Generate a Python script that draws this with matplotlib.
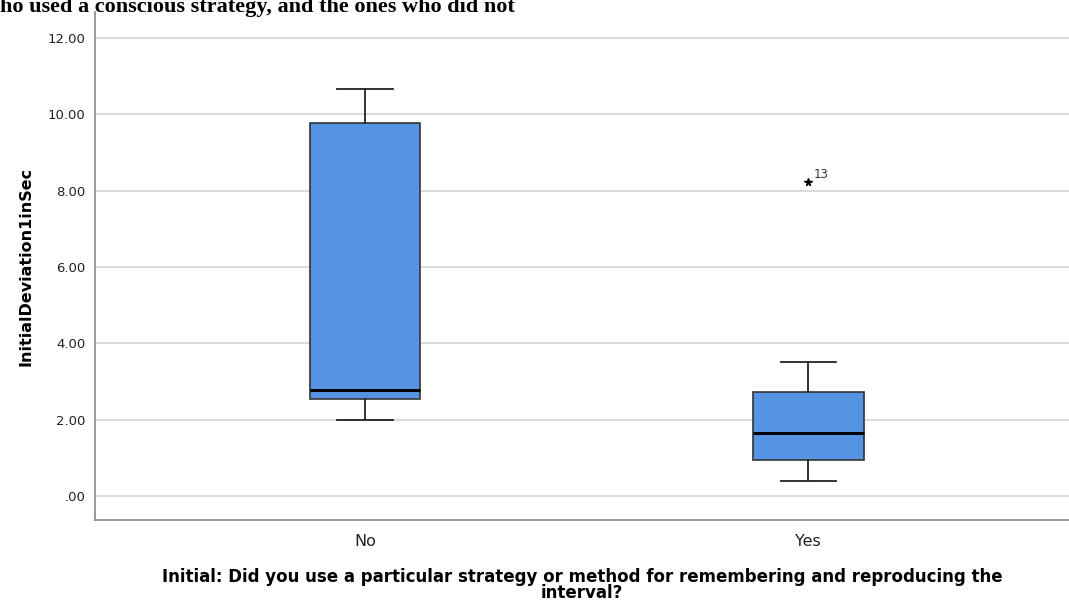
import matplotlib
matplotlib.use("Agg")
import matplotlib.pyplot as plt
from matplotlib.ticker import FixedLocator, FixedFormatter

# Five-number summaries per group
groups = ["No", "Yes"]
whisker_low = [1.98, 0.40]
q1 = [2.54, 0.94]
median = [2.78, 1.65]
q3 = [9.76, 2.72]
whisker_high = [10.67, 3.51]
outliers = [[], [8.22]]
outlier_ids = [[], ["13"]]

yticks = [0, 2, 4, 6, 8, 10, 12]
ytick_labels = [".00", "2.00", "4.00", "6.00", "8.00", "10.00", "12.00"]

fill = "#5594e3"

fig = plt.figure(figsize=(10.69, 6.07), dpi=100)
ax = fig.add_axes([95 / 1069, 87 / 607, 974 / 1069, 508 / 607])

stats = []
for i, g in enumerate(groups):
    stats.append(dict(label=g, whislo=whisker_low[i], q1=q1[i], med=median[i],
                      q3=q3[i], whishi=whisker_high[i], fliers=outliers[i]))

pos = list(range(len(groups)))
ax.bxp(stats, positions=pos, widths=0.25, patch_artist=True,
       boxprops=dict(facecolor=fill, edgecolor="#333333", linewidth=1.2),
       medianprops=dict(color="black", linewidth=2.2),
       whiskerprops=dict(color="#222222", linewidth=1.3),
       capprops=dict(color="#222222", linewidth=1.3),
       capwidths=0.125,
       flierprops=dict(marker="*", markersize=5.5, markerfacecolor="black",
                       markeredgecolor="black", linestyle="none"),
       zorder=3)

for i in pos:
    for v, lab in zip(outliers[i], outlier_ids[i]):
        ax.annotate(lab, (i, v), xytext=(4, 3), textcoords="offset points",
                    fontsize=8.5, color="#333333")

ax.set_xlim(-0.609, 1.588)
ax.set_ylim(-0.63, 12.68)
ax.yaxis.set_major_locator(FixedLocator(yticks))
ax.yaxis.set_major_formatter(FixedFormatter(ytick_labels))
ax.grid(axis="y", color="#d4d4d4", linewidth=1.2, zorder=0)
ax.set_axisbelow(True)

for s in ["top", "right"]:
    ax.spines[s].set_visible(False)
for s in ["left", "bottom"]:
    ax.spines[s].set_color("#888888")
    ax.spines[s].set_linewidth(1.2)

ax.tick_params(axis="y", length=0, labelsize=9.5, labelcolor="#222222", pad=7)
ax.tick_params(axis="x", length=0, labelsize=11.5, labelcolor="#222222", pad=10)

ax.set_ylabel("InitialDeviation1inSec", fontsize=11.5, fontweight="bold",
              labelpad=10)
ax.set_xlabel("Initial: Did you use a particular strategy or method for "
              "remembering and reproducing the\ninterval?",
              fontsize=12, fontweight="bold", linespacing=0.85, labelpad=14)

# heading carried over from the page above, clipped at the top edge
fig.text(0, 1 - 12 / 607, "ho used a conscious strategy, and the ones who did not",
         fontsize=16, fontweight="bold", family="Liberation Serif",
         va="baseline")

fig.savefig("out.png", dpi=100)
